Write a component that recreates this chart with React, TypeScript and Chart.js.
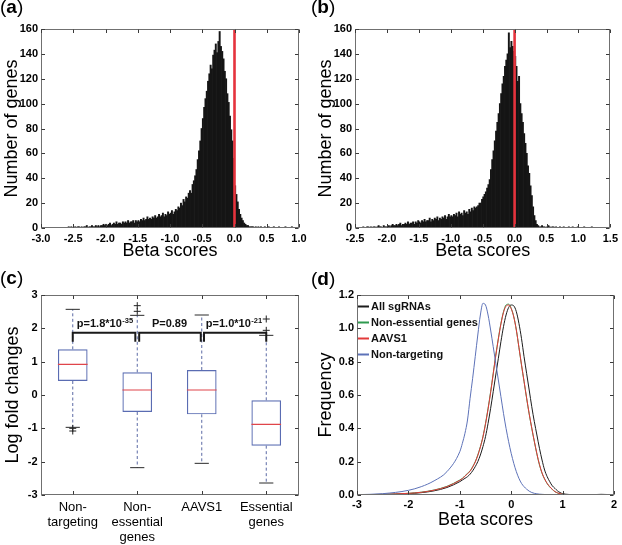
import React, { useEffect, useRef } from "react";
import { Chart, registerables } from "chart.js";

Chart.register(...registerables);

const FONT = "'Liberation Sans', Arial, Helvetica, sans-serif";
Chart.defaults.font.family = FONT;
Chart.defaults.color = "#000";

// ---------- Panel (a): histogram of beta scores ----------
const histABinStart = -2.6;
const histABinWidth = 0.02;
const histACounts = [
  0, 1, 0, 1, 0, 0, 1, 0, 1, 1, 0, 1, 0, 1, 1, 2, 0, 1, 1, 2, 1, 1, 2, 1, 2, 1, 2, 2, 3, 2,
  3, 2, 3, 4, 2, 3, 4, 3, 5, 3, 4, 4, 3, 5, 4, 5, 4, 6, 4, 5, 5, 6, 4, 6, 5,
  6, 5, 7, 6, 8, 6, 7, 9, 7, 8, 7, 9, 8, 10, 8, 9, 11, 9, 10, 12, 9, 11, 10, 13, 11,
  12, 14, 11, 13, 15, 14, 17, 16, 20, 18, 23, 21, 25, 24, 28,
  30, 28, 35, 38, 42, 47, 55, 62, 70, 80,
  88, 97, 104, 110, 118, 124, 131, 128, 139, 143,
  148, 141, 150, 158, 146, 142, 136, 126, 120, 108, 101, 90, 79, 70, 56,
  34, 27, 21, 15, 11, 8, 6, 4, 3, 2, 2, 1, 1, 1, 1, 0, 1, 0, 1, 0,
  1, 0, 0, 1, 0, 0, 1, 0, 0, 0, 1, 0, 0, 0, 1, 0, 0, 0, 0, 1, 0, 0, 0, 0, 1,
];
const histAXMin = -3;
const histAXMax = 1;

// ---------- Panel (b): histogram of beta scores ----------
const histBBinStart = -2.4;
const histBBinWidth = 0.02;
const histBCounts = [
  0, 1, 0, 0, 1, 1, 0, 1, 0, 1, 1, 0, 1, 2, 1, 1, 0, 2, 1, 1,
  1, 2, 1, 2, 3, 2, 2, 3, 2, 3, 4, 2, 3, 3, 4, 3, 5, 3, 4, 4, 5, 3, 5, 4, 6,
  5, 4, 6, 5, 7, 5, 6, 6, 8, 5, 7, 6, 8, 7, 9, 6, 8, 7, 9, 8, 10, 7, 9, 11, 9,
  10, 9, 11, 10, 12, 9, 13, 11, 12, 10, 14, 12, 13, 11, 15, 13, 16, 14, 17, 16,
  17, 18, 20, 20, 23, 25, 27, 29, 32, 35, 39, 47, 55, 62, 70,
  78, 85, 92, 100, 108, 116, 122, 130, 135, 140, 157, 145, 150, 146, 142,
  138, 130, 118, 122, 100, 92, 85, 76, 68, 60, 50, 44, 34, 26, 17, 10, 6, 3, 2, 1,
  1, 2, 1, 1, 0, 1, 2, 1, 0, 1, 1, 0, 1, 0, 0, 1, 0, 0, 1, 0,
  0, 0, 1, 0, 0, 1, 0, 0, 0, 1, 0, 0, 0, 0, 1, 0, 0, 0, 0, 0, 1, 0, 0, 0, 0,
];
const histBXMin = -2.5;
const histBXMax = 1.5;

const histYMax = 160;
const histYStep = 20;
const zeroLineX = 0;

// ---------- Panel (c): box plots of log fold changes ----------
const boxCategories = [["Non-", "targeting"], ["Non-", "essential", "genes"], ["AAVS1"], ["Essential", "genes"]];
const boxPositions = [1, 2, 3, 4];
const boxWhiskerHigh = [2.57, 2.39, 2.4, 1.79];
const boxQ3 = [1.37, 0.68, 0.75, -0.16];
const boxMedian = [0.92, 0.15, 0.15, -0.88];
const boxQ1 = [0.42, -0.51, -0.58, -1.52];
const boxWhiskerLow = [-0.97, -2.18, -2.05, -2.64];
const outlierX = [1, 1, 2, 2, 4, 4];
const outlierY = [-1.0, -1.08, 2.51, 2.68, 1.94, 2.28];
const bracketLeft = [1.0, 2.03, 3.035];
const bracketRight = [1.97, 2.985, 4.0];
const bracketTop = 1.87;
const bracketFoot = 1.6;
const pValueX = [1.5, 2.5, 3.5];
const pValueY = 2.03;
const pValueMain = ["p=1.8*10", "P=0.89", "p=1.0*10"];
const pValueExp = ["-35", "", "-21"];

// ---------- Panel (d): density curves ----------
const densityLabels = ["All sgRNAs", "Non-essential genes", "AAVS1", "Non-targeting"];
const densityColors = ["#1c1c1c", "#2f9a4f", "#e23a3a", "#5d72b8"];
const densityX = [
  -3, -2.5, -2, -1.75, -1.5, -1.25,
  -1.0, -0.95, -0.9, -0.85, -0.8, -0.75, -0.7, -0.65, -0.6, -0.55,
  -0.5, -0.45, -0.4, -0.35, -0.3, -0.25, -0.2, -0.15, -0.1, -0.05,
  0.0, 0.05, 0.1, 0.15, 0.2, 0.25, 0.3, 0.35, 0.4, 0.45,
  0.5, 0.55, 0.6, 0.65, 0.7, 0.75, 0.8, 0.85, 0.9, 0.95,
  1.0, 1.25, 1.5, 1.75, 2.0,
];
const densityAll = [
  0.001, 0.003, 0.008, 0.014, 0.025, 0.045,
  0.08, 0.09, 0.1, 0.11, 0.125, 0.145, 0.17, 0.2, 0.24, 0.29,
  0.35, 0.43, 0.52, 0.62, 0.72, 0.82, 0.92, 1.01, 1.08, 1.125,
  1.14, 1.135, 1.1, 1.03, 0.94, 0.83, 0.73, 0.63, 0.53, 0.44,
  0.36, 0.28, 0.21, 0.15, 0.11, 0.08, 0.055, 0.04, 0.025, 0.015,
  0.008, 0.002, 0.001, 0.004, 0.001,
];
const densityNonEss = [
  0.001, 0.004, 0.01, 0.017, 0.03, 0.052,
  0.09, 0.1, 0.115, 0.13, 0.145, 0.17, 0.2, 0.24, 0.29, 0.35,
  0.43, 0.52, 0.62, 0.73, 0.84, 0.94, 1.03, 1.1, 1.14, 1.145,
  1.12, 1.07, 0.99, 0.885, 0.78, 0.68, 0.58, 0.485, 0.4, 0.32,
  0.245, 0.18, 0.13, 0.095, 0.068, 0.048, 0.033, 0.02, 0.012, 0.007,
  0.004, 0.001, 0, 0.002, 0,
];
const densityAAVS1 = [
  0.001, 0.004, 0.01, 0.016, 0.029, 0.05,
  0.088, 0.098, 0.112, 0.128, 0.142, 0.167, 0.197, 0.237, 0.287, 0.347,
  0.425, 0.515, 0.615, 0.725, 0.835, 0.935, 1.025, 1.095, 1.133, 1.14,
  1.118, 1.068, 0.99, 0.887, 0.783, 0.683, 0.583, 0.488, 0.403, 0.323,
  0.248, 0.183, 0.133, 0.097, 0.07, 0.05, 0.034, 0.021, 0.013, 0.008,
  0.004, 0.001, 0, 0.002, 0,
];
const densityNonTarget = [
  0.002, 0.008, 0.028, 0.05, 0.085, 0.14,
  0.26, 0.31, 0.37, 0.45, 0.58, 0.7, 0.83, 0.96, 1.08, 1.15,
  1.14, 1.08, 0.99, 0.89, 0.79, 0.69, 0.59, 0.49, 0.4, 0.32,
  0.25, 0.19, 0.14, 0.1, 0.07, 0.05, 0.035, 0.023, 0.015, 0.01,
  0.007, 0.005, 0.004, 0.003, 0.002, 0.002, 0.001, 0.001, 0.001, 0.001,
  0.001, 0, 0, 0, 0,
];

// ---------- helpers ----------
const tickFontBold = { family: FONT, size: 11, weight: "bold" as const };
const titleFont = { family: FONT, size: 18, weight: "normal" as const };

const frameTicksPlugin = {
  id: "frameTicks",
  afterDatasetsDraw(chart: any) {
    const { ctx, chartArea, scales } = chart;
    const L = Math.round(chartArea.left) + 0.5;
    const R = Math.round(chartArea.right) - 0.5;
    const T = Math.round(chartArea.top) + 0.5;
    const B = Math.round(chartArea.bottom) - 0.5;
    ctx.save();
    ctx.lineWidth = 1;
    ctx.strokeStyle = "#707070";
    ctx.strokeRect(L, T, R - L, B - T);
    ctx.strokeStyle = "#3a3a3a";
    const len = 3.5;
    ctx.beginPath();
    for (const t of scales.x.ticks) {
      const px = Math.round(scales.x.getPixelForValue(t.value)) + 0.5;
      ctx.moveTo(px, B);
      ctx.lineTo(px, B - len);
      ctx.moveTo(px, T);
      ctx.lineTo(px, T + len);
    }
    for (const t of scales.y.ticks) {
      const py = Math.round(scales.y.getPixelForValue(t.value)) + 0.5;
      ctx.moveTo(L, py);
      ctx.lineTo(L + len, py);
      ctx.moveTo(R, py);
      ctx.lineTo(R - len, py);
    }
    ctx.stroke();
    ctx.restore();
  },
};

function axis(o: {
  min: number;
  max: number;
  step: number;
  fmt: (v: any) => any;
  isX: boolean;
  fit: number;
  tickPad: number;
  title?: string;
  titlePad?: any;
  tickFont?: any;
  afterBuildTicks?: (s: any) => void;
}) {
  return {
    type: "linear",
    min: o.min,
    max: o.max,
    offset: false,
    grid: { display: false, drawTicks: false },
    border: { display: false },
    ticks: {
      stepSize: o.step,
      autoSkip: false,
      maxRotation: 0,
      minRotation: 0,
      padding: o.tickPad,
      color: "#000",
      font: o.tickFont ?? tickFontBold,
      callback: o.fmt,
    },
    title: o.title
      ? { display: true, text: o.title, color: "#000", font: titleFont, padding: o.titlePad }
      : { display: false },
    afterBuildTicks: o.afterBuildTicks,
    afterFit: (s: any) => {
      if (o.isX) s.height = o.fit;
      else s.width = o.fit;
    },
  };
}

function baseOptions(padding: any, x: any, y: any) {
  return {
    animation: false,
    responsive: false,
    maintainAspectRatio: false,
    devicePixelRatio: 1,
    events: [],
    layout: { padding },
    plugins: { legend: { display: false }, tooltip: { enabled: false } },
    scales: { x, y },
  };
}

const fmt1 = (v: any) => Number(v).toFixed(1);
const fmt0 = (v: any) => String(Math.round(Number(v)));

function histConfig(
  counts: number[],
  binStart: number,
  binWidth: number,
  xMin: number,
  xMax: number,
  yAxisWidth: number,
  rightPad: number,
  yTitlePadTop: number
) {
  return {
    type: "bar",
    data: {
      datasets: [
        {
          type: "line",
          label: "zero",
          data: [
            { x: zeroLineX, y: 0 },
            { x: zeroLineX, y: histYMax },
          ],
          borderColor: "#e5333d",
          borderWidth: 2.6,
          pointRadius: 0,
          order: 0,
        },
        {
          type: "bar",
          label: "Number of genes",
          data: counts.map((c, i) => ({ x: binStart + binWidth * (i + 0.5), y: c })),
          backgroundColor: "#151515",
          borderWidth: 0,
          barPercentage: 1,
          categoryPercentage: 1,
          order: 1,
        },
      ],
    },
    options: baseOptions(
      { left: 0, top: 29, right: rightPad, bottom: 0 },
      axis({
        min: xMin,
        max: xMax,
        step: 0.5,
        fmt: fmt1,
        isX: true,
        fit: 44,
        tickPad: 4,
        title: "Beta scores",
        titlePad: { top: 0, bottom: 10 },
      }),
      axis({
        min: 0,
        max: histYMax,
        step: histYStep,
        fmt: fmt0,
        isX: false,
        fit: yAxisWidth,
        tickPad: 3,
        title: "Number of genes",
        titlePad: { top: yTitlePadTop, bottom: 0 },
      })
    ),
    plugins: [frameTicksPlugin],
  };
}

function configA() {
  return histConfig(histACounts, histABinStart, histABinWidth, histAXMin, histAXMax, 41, 12, 1);
}
function configB() {
  return histConfig(histBCounts, histBBinStart, histBBinWidth, histBXMin, histBXMax, 44, 8.7, 4);
}

const pValuePlugin = {
  id: "pValues",
  afterDatasetsDraw(chart: any) {
    const { ctx, scales } = chart;
    ctx.save();
    ctx.fillStyle = "#111";
    ctx.textBaseline = "alphabetic";
    ctx.textAlign = "left";
    pValueMain.forEach((txt, i) => {
      const sup = pValueExp[i];
      ctx.font = `bold 11px ${FONT}`;
      const w1 = ctx.measureText(txt).width;
      ctx.font = `bold 7.5px ${FONT}`;
      const w2 = sup ? ctx.measureText(sup).width + 0.5 : 0;
      const cx = scales.x.getPixelForValue(pValueX[i]);
      const by = scales.y.getPixelForValue(pValueY);
      const sx = cx - (w1 + w2) / 2;
      ctx.font = `bold 11px ${FONT}`;
      ctx.fillText(txt, sx, by);
      if (sup) {
        ctx.font = `bold 7.5px ${FONT}`;
        ctx.fillText(sup, sx + w1 + 0.5, by - 4.5);
      }
    });
    ctx.restore();
  },
};

function configC() {
  const capW = 0.11;
  const medW = 0.23;
  const boxData = boxPositions.map((p, i) => ({ x: p, y: [boxQ1[i], boxQ3[i]] }));
  const whiskerData = boxPositions.flatMap((p, i) => [
    { x: p, y: boxQ3[i] },
    { x: p, y: boxWhiskerHigh[i] },
    { x: p, y: null },
    { x: p, y: boxQ1[i] },
    { x: p, y: boxWhiskerLow[i] },
    { x: p, y: null },
  ]);
  const capData = boxPositions.flatMap((p, i) => [
    { x: p - capW, y: boxWhiskerHigh[i] },
    { x: p + capW, y: boxWhiskerHigh[i] },
    { x: p, y: null },
    { x: p - capW, y: boxWhiskerLow[i] },
    { x: p + capW, y: boxWhiskerLow[i] },
    { x: p, y: null },
  ]);
  const medData = boxPositions.flatMap((p, i) => [
    { x: p - medW, y: boxMedian[i] },
    { x: p + medW, y: boxMedian[i] },
    { x: p, y: null },
  ]);
  const outData = outlierX.map((x, i) => ({ x, y: outlierY[i] }));
  const bracketData = bracketLeft.flatMap((l, i) => [
    { x: l, y: bracketFoot },
    { x: l, y: bracketTop },
    { x: bracketRight[i], y: bracketTop },
    { x: bracketRight[i], y: bracketFoot },
    { x: l, y: null },
  ]);
  const lineBase = { type: "line", pointRadius: 0, spanGaps: false, tension: 0, fill: false };
  return {
    type: "bar",
    data: {
      datasets: [
        { ...lineBase, label: "brackets", data: bracketData, borderColor: "#1a1a1a", borderWidth: 2, order: 0 },
        {
          type: "line",
          label: "outliers",
          data: outData,
          showLine: false,
          pointStyle: "cross",
          pointRadius: 3.5,
          pointBorderColor: "#222",
          pointBorderWidth: 1,
          order: 1,
        },
        { ...lineBase, label: "median", data: medData, borderColor: "#e0454a", borderWidth: 1.2, order: 2 },
        { ...lineBase, label: "caps", data: capData, borderColor: "#2a2a2a", borderWidth: 1, order: 3 },
        {
          ...lineBase,
          label: "whiskers",
          data: whiskerData,
          borderColor: "#5b6aa5",
          borderWidth: 1,
          borderDash: [3, 2.5],
          order: 4,
        },
        {
          type: "bar",
          label: "boxes",
          data: boxData,
          backgroundColor: "rgba(0,0,0,0)",
          borderColor: "#5a6cb2",
          borderWidth: 1.2,
          borderSkipped: false,
          barPercentage: 0.46,
          categoryPercentage: 1,
          order: 5,
        },
      ],
    },
    options: baseOptions(
      { left: 0, top: 23, right: 12.5, bottom: 0 },
      axis({
        min: 0.5,
        max: 4.5,
        step: 1,
        fmt: (v: any) => boxCategories[boxPositions.indexOf(Number(v))] ?? "",
        isX: true,
        fit: 50,
        tickPad: 4.5,
        tickFont: { family: FONT, size: 13, weight: "normal", lineHeight: 15 / 13 },
        afterBuildTicks: (s: any) => {
          s.ticks = boxPositions.map((v) => ({ value: v }));
        },
      }),
      axis({
        min: -3,
        max: 3,
        step: 1,
        fmt: fmt0,
        isX: false,
        fit: 40.5,
        tickPad: 3,
        title: "Log fold changes",
        titlePad: { top: 2, bottom: 0 },
      })
    ),
    plugins: [frameTicksPlugin, pValuePlugin],
  };
}

const legendDPlugin = {
  id: "legendD",
  afterDatasetsDraw(chart: any) {
    const { ctx, chartArea } = chart;
    ctx.save();
    ctx.textBaseline = "middle";
    ctx.textAlign = "left";
    ctx.font = `bold 11px ${FONT}`;
    chart.data.datasets.forEach((ds: any, i: number) => {
      const yy = Math.round(chartArea.top + 10.5 + i * 16.2) + 0.5;
      ctx.strokeStyle = ds.borderColor;
      ctx.lineWidth = 2;
      ctx.beginPath();
      ctx.moveTo(chartArea.left + 1, yy);
      ctx.lineTo(chartArea.left + 12, yy);
      ctx.stroke();
      ctx.fillStyle = "#111";
      ctx.fillText(ds.label, chartArea.left + 14, yy);
    });
    ctx.restore();
  },
};

function configD() {
  const series = [densityAll, densityNonEss, densityAAVS1, densityNonTarget];
  const orders = [4, 3, 2, 1];
  return {
    type: "line",
    data: {
      datasets: series.map((ys, k) => ({
        label: densityLabels[k],
        data: densityX.map((x, i) => ({ x, y: ys[i] })),
        borderColor: densityColors[k],
        borderWidth: 1,
        pointRadius: 0,
        cubicInterpolationMode: "monotone",
        fill: false,
        order: orders[k],
      })),
    },
    options: baseOptions(
      { left: 0, top: 23, right: 8, bottom: 0 },
      axis({
        min: -3,
        max: 2,
        step: 1,
        fmt: fmt0,
        isX: true,
        fit: 50,
        tickPad: 3,
        title: "Beta scores",
        titlePad: { top: 0, bottom: 14 },
      }),
      axis({
        min: 0,
        max: 1.2,
        step: 0.2,
        fmt: fmt1,
        isX: false,
        fit: 46,
        tickPad: 3,
        title: "Frequency",
        titlePad: { top: 4, bottom: 0 },
      })
    ),
    plugins: [frameTicksPlugin, legendDPlugin],
  };
}

function Panel({ left, top, w, h, build }: { left: number; top: number; w: number; h: number; build: () => any }) {
  const ref = useRef<HTMLCanvasElement>(null);
  useEffect(() => {
    const chart = new Chart(ref.current as HTMLCanvasElement, build());
    return () => chart.destroy();
  }, []);
  return (
    <canvas
      ref={ref}
      width={w}
      height={h}
      style={{ position: "absolute", left, top, width: w, height: h, display: "block" }}
    />
  );
}

function PanelLabel({ left, top, letter }: { left: number; top: number; letter: string }) {
  return (
    <div
      style={{
        position: "absolute",
        left,
        top,
        fontFamily: FONT,
        fontSize: 19,
        lineHeight: "19px",
        color: "#000",
        whiteSpace: "nowrap",
      }}
    >
      (<b>{letter}</b>)
    </div>
  );
}

export default function App() {
  return (
    <div
      style={{
        position: "fixed",
        left: 0,
        top: 0,
        width: 622,
        height: 545,
        background: "#fff",
        overflow: "hidden",
      }}
    >
      <Panel left={0} top={0} w={311} h={272} build={configA} />
      <Panel left={311} top={0} w={311} h={272} build={configB} />
      <Panel left={0} top={272} w={311} h={273} build={configC} />
      <Panel left={311} top={272} w={311} h={273} build={configD} />
      <PanelLabel left={0} top={-3} letter="a" />
      <PanelLabel left={311} top={-3} letter="b" />
      <PanelLabel left={0} top={268} letter="c" />
      <PanelLabel left={311} top={269} letter="d" />
    </div>
  );
}
